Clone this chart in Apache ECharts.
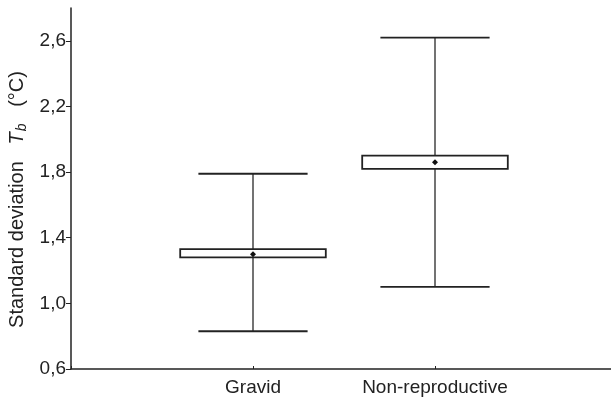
<!DOCTYPE html>
<html><head><meta charset="utf-8">
<script src="https://cdn.jsdelivr.net/npm/echarts@6/dist/echarts.min.js"></script>
<style>html,body{margin:0;padding:0;background:#fff}#c{width:611px;height:398px}</style>
</head><body><div id="c"></div>
<script>
const categories = ['Gravid', 'Non-reproductive'];
const whiskerMin = [0.83, 1.10];
const boxLow = [1.28, 1.82];
const mean = [1.30, 1.86];
const boxHigh = [1.33, 1.90];
const whiskerMax = [1.79, 2.62];
const yTicks = [0.6, 1.0, 1.4, 1.8, 2.2, 2.6];
const yTickLabels = ['0,6', '1,0', '1,4', '1,8', '2,2', '2,6'];

const xData = [''].concat(categories, ['']);
const seriesData = categories.map((c, i) => [i + 1, whiskerMin[i], boxLow[i], mean[i], boxHigh[i], whiskerMax[i]]);
const ink = '#222';
const font = 'Liberation Sans, Arial, sans-serif';

const chart = echarts.init(document.getElementById('c'), null, {renderer: 'canvas'});
chart.setOption({
  animation: false,
  grid: {left: 71, top: 8, bottom: 29, width: 546, outerBoundsMode: 'none', containLabel: false},
  xAxis: {
    type: 'category', data: xData, boundaryGap: false,
    axisLine: {lineStyle: {color: ink, width: 1.5}},
    axisTick: {inside: true, length: 3, lineStyle: {color: ink}},
    axisLabel: {color: ink, fontFamily: font, fontSize: 19, margin: 9, interval: 0},
    splitLine: {show: false}
  },
  yAxis: {
    type: 'value', min: 0.6, max: 2.8,
    axisLine: {show: true, lineStyle: {color: ink, width: 1.5}},
    axisTick: {show: true, length: 5, customValues: yTicks, lineStyle: {color: ink}},
    axisLabel: {
      color: ink, fontFamily: font, fontSize: 19, margin: 5, customValues: yTicks,
      formatter: v => { const k = yTicks.findIndex(t => Math.abs(t - v) < 1e-6); return k >= 0 ? yTickLabels[k] : ''; }
    },
    splitLine: {show: false},
    name: '{n|Standard deviation   }{t|T}{s|b}{n|   (°C)}',
    nameLocation: 'middle', nameRotate: 90, nameGap: 38,
    nameTextStyle: {
      padding: [0, 22, 0, 0],
      rich: {
        n: {fontFamily: font, fontSize: 20, color: ink},
        t: {fontFamily: font, fontSize: 20, fontStyle: 'italic', color: ink},
        s: {fontFamily: font, fontSize: 14, fontStyle: 'italic', color: ink, verticalAlign: 'bottom', padding: [9, 0, 0, 1]}
      }
    }
  },
  series: [{
    type: 'custom',
    data: seriesData,
    encode: {x: 0, y: [1, 2, 3, 4, 5]},
    renderItem: function (params, api) {
      const x = api.value(0);
      const band = api.size([1, 0])[0];
      const pMin = api.coord([x, api.value(1)]);
      const pLow = api.coord([x, api.value(2)]);
      const pMean = api.coord([x, api.value(3)]);
      const pHigh = api.coord([x, api.value(4)]);
      const pMax = api.coord([x, api.value(5)]);
      const bw = band * 0.8, cw = band * 0.6;
      const cx = pMin[0];
      return {
        type: 'group',
        children: [
          {type: 'line', shape: {x1: cx, y1: pMax[1], x2: cx, y2: pMin[1]}, style: {stroke: '#444', lineWidth: 1.5}},
          {type: 'line', shape: {x1: cx - cw / 2, y1: pMax[1], x2: cx + cw / 2, y2: pMax[1]}, style: {stroke: ink, lineWidth: 1.8}},
          {type: 'line', shape: {x1: cx - cw / 2, y1: pMin[1], x2: cx + cw / 2, y2: pMin[1]}, style: {stroke: ink, lineWidth: 1.8}},
          {type: 'rect', shape: {x: cx - bw / 2, y: pHigh[1], width: bw, height: pLow[1] - pHigh[1]}, style: {fill: '#fff', stroke: ink, lineWidth: 1.8}},
          {type: 'polygon', shape: {points: [[cx, pMean[1] - 3], [cx + 3, pMean[1]], [cx, pMean[1] + 3], [cx - 3, pMean[1]]]}, style: {fill: '#111'}}
        ]
      };
    }
  }]
});
</script></body></html>
